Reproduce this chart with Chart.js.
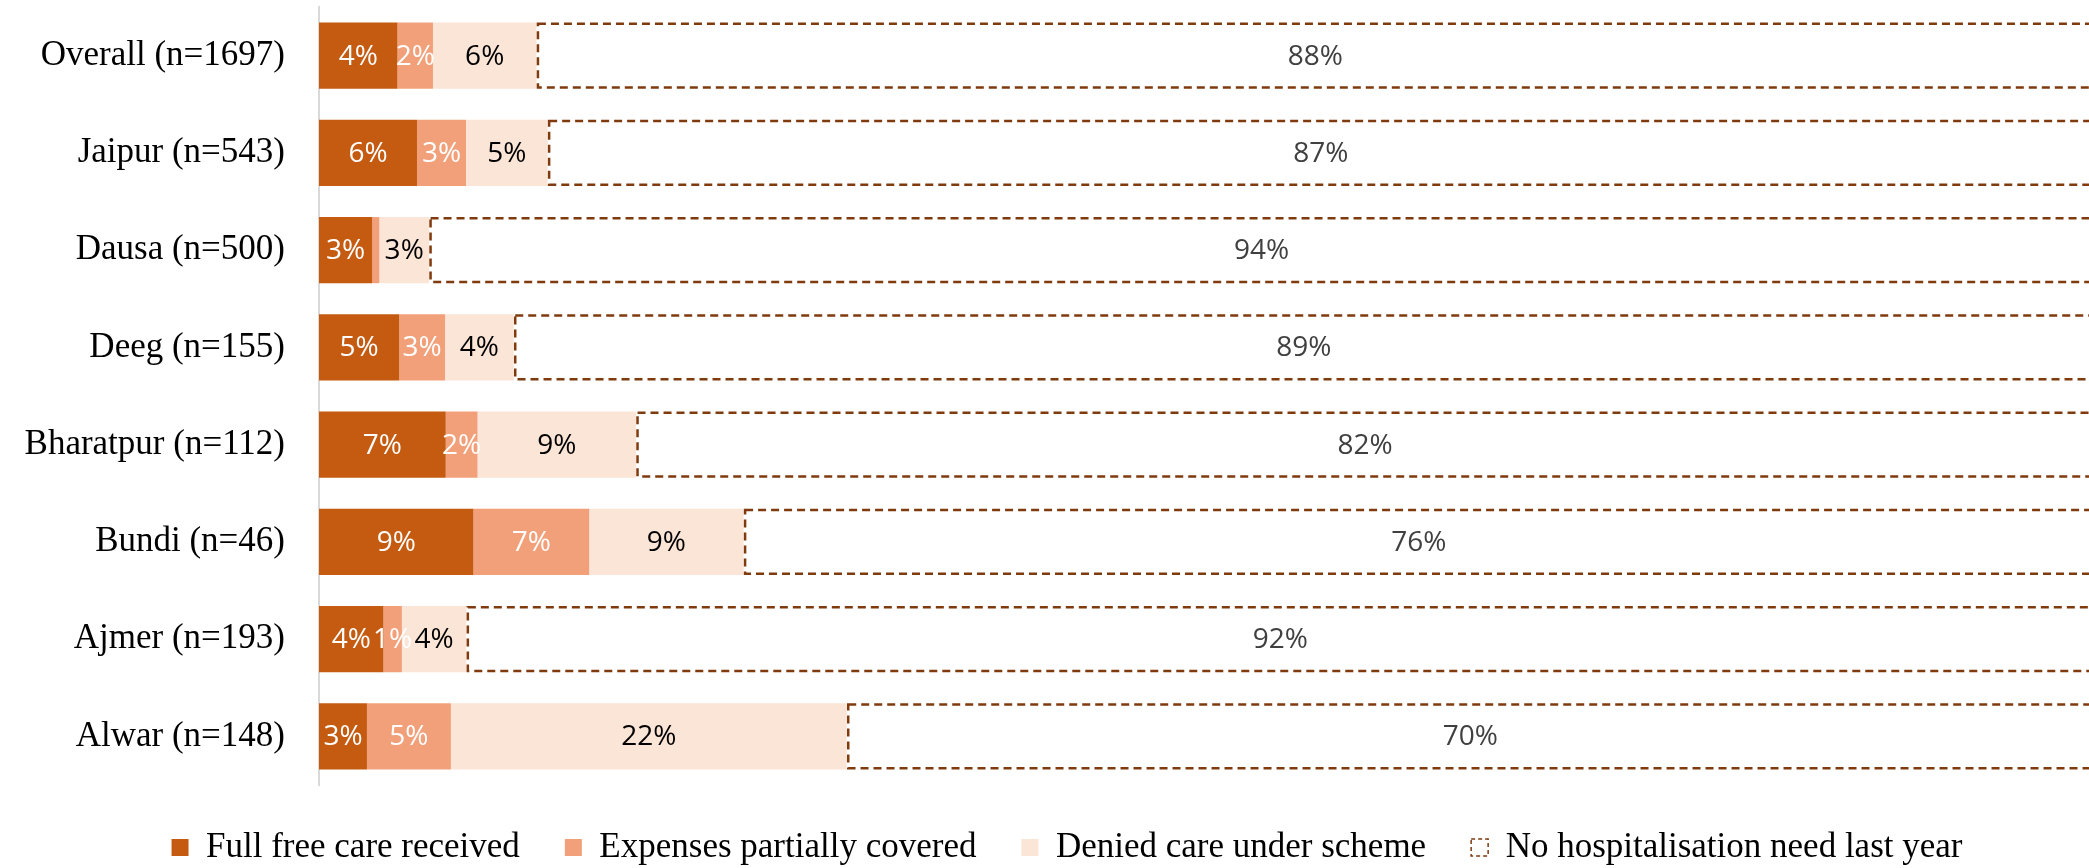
<!DOCTYPE html>
<html lang="en">
<head>
  <meta charset="UTF-8" />
  <title>Hospitalisation care under scheme by district</title>
  <script src="https://cdn.jsdelivr.net/npm/chart.js"></script>
  <style>
    html, body { margin: 0; padding: 0; background: #fff; overflow: hidden; }
    .chart-box { width: 2134px; height: 875px; }
  </style>
</head>
<body>
  <div class="chart-box">
    <canvas id="careChart"></canvas>
  </div>

  <script>
    // Data (share of households, %)
    const districts = ['Overall (n=1697)', 'Jaipur (n=543)', 'Dausa (n=500)', 'Deeg (n=155)',
                       'Bharatpur (n=112)', 'Bundi (n=46)', 'Ajmer (n=193)', 'Alwar (n=148)'];
    const fullFree = [4.42, 5.52, 3.00, 4.52, 7.14, 8.70, 3.63, 2.70];
    const partial  = [2.00, 2.76, 0.40, 2.58, 1.79, 6.52, 1.04, 4.73];
    const denied   = [5.83, 4.60, 2.80, 3.87, 8.93, 8.70, 3.63, 22.30];
    const noNeed   = [87.75, 87.11, 93.80, 89.03, 82.14, 76.09, 91.71, 70.27];
    const seriesNames = ['Full free care received', 'Expenses partially covered',
                         'Denied care under scheme', 'No hospitalisation need last year'];

    const colors = ['#C55A11', '#F1A07A', '#FBE5D6', 'rgba(255,255,255,0)'];
    const labelColors = ['#ffffff', '#ffffff', '#000000', '#404040'];
    const boxLine = '#7F3A0E';
    const serif = '"Liberation Serif", "Times New Roman", serif';

    Chart.defaults.color = '#000';

    // dashed outline round the last segment + value labels in every segment
    const segmentDecor = {
      id: 'segmentDecor',
      afterDatasetsDraw(chart) {
        const ctx = chart.ctx;
        ctx.save();
        ctx.strokeStyle = boxLine;
        ctx.lineWidth = 2.5;
        ctx.setLineDash([8, 5]);
        chart.getDatasetMeta(3).data.forEach(bar => {
          const p = bar.getProps(['x', 'y', 'base', 'height'], true);
          ctx.strokeRect(p.base + 1.5, p.y - p.height / 2 + 1.25, p.x - p.base - 1.5, p.height - 2.5);
        });
        ctx.setLineDash([]);

        ctx.font = '28px "Open Sans", "Noto Sans", sans-serif';
        ctx.textAlign = 'center';
        ctx.textBaseline = 'middle';
        chart.data.datasets.forEach((ds, i) => {
          chart.getDatasetMeta(i).data.forEach((bar, j) => {
            const v = ds.data[j];
            if (v < 0.5) return;
            const p = bar.getProps(['x', 'y', 'base'], true);
            ctx.fillStyle = labelColors[i];
            ctx.fillText(Math.round(v) + '%', (p.x + p.base) / 2, p.y + 1);
          });
        });
        ctx.restore();
      }
    };

    const ctx = document.getElementById('careChart').getContext('2d');
    const careChart = new Chart(ctx, {
      type: 'bar',
      data: {
        labels: districts,
        datasets: [fullFree, partial, denied, noNeed].map((d, i) => ({
          label: seriesNames[i],
          data: d,
          backgroundColor: colors[i],
          borderWidth: 0,
          categoryPercentage: 1,
          barPercentage: 0.68
        }))
      },
      options: {
        indexAxis: 'y',
        responsive: true,
        maintainAspectRatio: false,
        animation: false,
        events: [],
        layout: { padding: { left: 0, right: 0, top: 7, bottom: 0 } },
        scales: {
          // the plot runs a little past the right edge of the page, as in the source image
          x: { stacked: true, min: 0, max: 102.25, display: false },
          y: {
            stacked: true,
            grid: { display: false, drawTicks: false },
            border: { display: true, color: '#d9d9d9', width: 2 },
            ticks: { padding: 34, color: '#000', font: { family: serif, size: 35 } },
            afterFit(scale) {
              scale.width = 319;
              scale.paddingTop = 0;
              scale.paddingBottom = 0;
            }
          }
        },
        plugins: {
          tooltip: { enabled: false },
          legend: {
            position: 'bottom',
            labels: {
              boxWidth: 17,
              boxHeight: 17,
              padding: 45,
              color: '#000',
              font: { family: serif, size: 35 },
              generateLabels(chart) {
                const items = Chart.defaults.plugins.legend.labels.generateLabels(chart);
                items[3].fillStyle = '#ffffff';
                items[3].strokeStyle = boxLine;
                items[3].lineWidth = 1.5;
                items[3].lineDash = [4, 3];
                return items;
              }
            }
          }
        }
      },
      plugins: [segmentDecor]
    });
  </script>
</body>
</html>
